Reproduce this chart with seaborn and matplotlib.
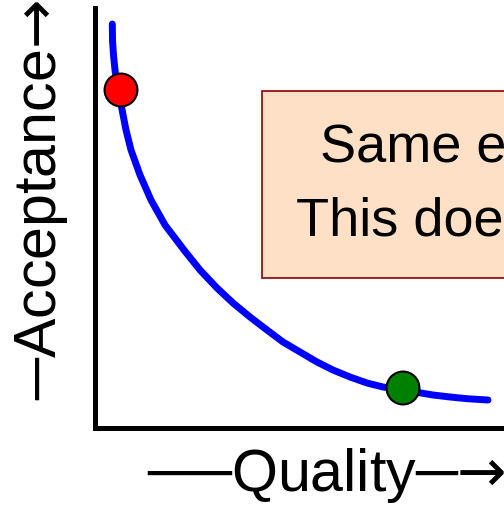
import numpy as np
import pandas as pd
import matplotlib
matplotlib.use("Agg")
import matplotlib.pyplot as plt
from matplotlib.patches import Rectangle
import seaborn as sns

# curve (quality vs acceptance, arbitrary units)
quality = [1.93, 1.95, 2.05, 2.2, 2.5, 2.85, 3.3, 3.8, 4.7, 5.8, 7.2, 9.1, 10.7,
           12.4, 14.0, 15.7, 17.4, 19.0, 20.7, 22.4, 24.0, 25.7, 27.4, 29.0,
           31.0, 34.0, 35.7, 37.4, 39.5]
acceptance = [40.4, 38.8, 37.3, 35.8, 33.8, 32.1, 29.8, 27.8, 25.3, 22.8, 20.3,
              17.8, 15.8, 14.0, 12.5, 11.1, 9.8, 8.6, 7.6, 6.6, 5.8, 5.1, 4.5,
              4.1, 3.8, 3.3, 3.1, 2.93, 2.8]

# the two highlighted points
dot_quality = [2.8, 31.0]
dot_acceptance = [33.8, 4.0]
dot_colors = ["red", "green"]

box_lines = ["Same effort", "This doesn't"]

curve = pd.DataFrame({"Quality": quality, "Acceptance": acceptance})
dots = pd.DataFrame({"Quality": dot_quality, "Acceptance": dot_acceptance, "c": dot_colors})

sns.set_style("white")
plt.rcParams["font.family"] = ["Liberation Sans", "DejaVu Sans"]
plt.rcParams["text.color"] = "black"
plt.rcParams["axes.labelcolor"] = "black"

fig = plt.figure(figsize=(5.04, 5.05), dpi=100)
ax = fig.add_axes([94.5 / 504, 77.5 / 505, 455.5 / 504, 420 / 505])

sns.lineplot(data=curve, x="Quality", y="Acceptance", sort=False, estimator=None,
             color="blue", lw=5, solid_capstyle="round", ax=ax)
sns.scatterplot(data=dots, x="Quality", y="Acceptance", hue="c",
                palette={"red": "red", "green": "green"}, s=560,
                edgecolor="black", linewidth=1.5, legend=False, zorder=5, ax=ax)

ax.set_xlim(0.15, 45.7)
ax.set_ylim(0.05, 42.05)

# peach note box (cut off on the right)
ax.add_patch(Rectangle((16.9, 15.0), 40, 18.7, facecolor="#fde0c5",
                       edgecolor="#8b0000", lw=1.2, zorder=3))
ax.text(22.7, 26.6, box_lines[0], fontsize=39, ha="left", va="baseline", zorder=4)
ax.text(20.3, 19.2, box_lines[1], fontsize=39, ha="left", va="baseline", zorder=4)

for s in ["top", "right"]:
    ax.spines[s].set_visible(False)
for s in ["left", "bottom"]:
    ax.spines[s].set_linewidth(3.6)
    ax.spines[s].set_color("black")
ax.set_xticks([])
ax.set_yticks([])

ax.set_xlabel("\u2500\u2500Quality\u2500$\u2192$", fontsize=42.6)
ax.set_ylabel("\u2500Acceptance$\u2192$", fontsize=42.6)
ax.xaxis.set_label_coords(0.508, -0.044)
ax.yaxis.set_label_coords(-0.053, 0.542)

fig.savefig("out.png", dpi=100)
